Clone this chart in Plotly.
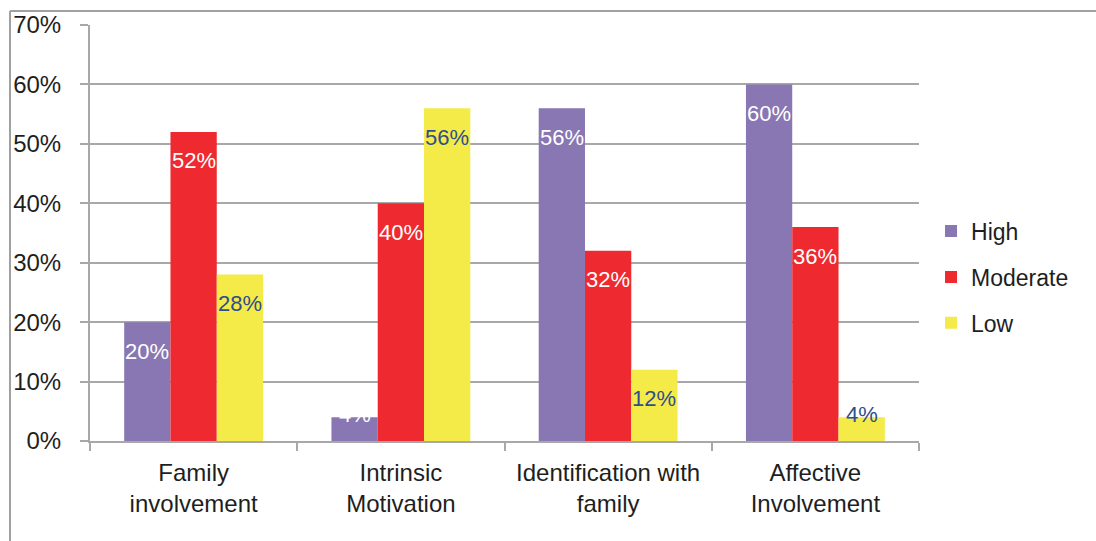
import plotly.graph_objects as go

# Chart data
categories = ["Family<br>involvement", "Intrinsic<br>Motivation",
              "Identification with<br>family", "Affective<br>Involvement"]
series_names = ["High", "Moderate", "Low"]
high = [20, 4, 56, 60]
moderate = [52, 40, 32, 36]
low = [28, 56, 12, 4]
y_ticks = [0, 10, 20, 30, 40, 50, 60, 70]
y_tick_labels = [f"{t}%" for t in y_ticks]

series_values = [high, moderate, low]
bar_colors = ["#8877B2", "#EE2A30", "#F4EA48"]
label_colors = ["#FFFFFF", "#FFFFFF", "#2E4E8E"]

FONT = "Liberation Sans, Arial, sans-serif"
GRID = "#A8A8A8"
TEXT = "#1E1E1E"
BARGAP = 0.33

fig = go.Figure()
for name, vals, col in zip(series_names, series_values, bar_colors):
    fig.add_trace(go.Bar(
        name=name, x=categories, y=vals, marker=dict(color=col, line=dict(width=0)),
        legendgroup=name, hoverinfo="skip",
    ))

# Data labels placed near the inside top of each bar
bar_w = (1 - BARGAP) / len(series_names)
annotations = []
for i, (vals, lc) in enumerate(zip(series_values, label_colors)):
    for j, v in enumerate(vals):
        annotations.append(dict(
            x=j + (i - 1) * bar_w, y=v, xref="x", yref="y",
            text=f"{v}%", showarrow=False,
            font=dict(family=FONT, size=22, color=lc),
            xanchor="center", yanchor="middle",
            yshift=-29 if v >= 10 else 3,
        ))

# Outer frame lines (top and left)
shapes = [
    dict(type="line", xref="paper", yref="paper", x0=-0.0965, x1=1.5,
         y0=1.0337, y1=1.0337, line=dict(color="#A0A0A0", width=2)),
    dict(type="line", xref="paper", yref="paper", x0=-0.0965, x1=-0.0965,
         y0=1.0337, y1=-0.5, line=dict(color="#A0A0A0", width=2)),
]

fig.update_layout(
    width=1096, height=541, autosize=False,
    margin=dict(l=90, r=177, t=25, b=100),
    paper_bgcolor="white", plot_bgcolor="white",
    barmode="group", bargap=BARGAP, bargroupgap=0,
    font=dict(family=FONT, color=TEXT),
    annotations=annotations, shapes=shapes,
    showlegend=True,
    legend=dict(
        x=1.0145, xanchor="left", y=0.394, yanchor="middle",
        font=dict(family=FONT, size=23, color=TEXT),
        traceorder="grouped", tracegroupgap=13,
        bgcolor="rgba(0,0,0,0)",
    ),
)

fig.update_yaxes(
    range=[0, 70], tickmode="array", tickvals=y_ticks, ticktext=y_tick_labels,
    showgrid=True, gridcolor=GRID, gridwidth=2,
    showline=True, linecolor=GRID, linewidth=2,
    ticks="outside", ticklen=8, tickcolor=GRID, tickwidth=2,
    tickfont=dict(family=FONT, size=24, color=TEXT),
    ticklabelstandoff=14, zeroline=False,
)
fig.update_xaxes(
    showline=True, linecolor=GRID, linewidth=2,
    ticks="outside", ticklen=8, tickcolor=GRID, tickwidth=2,
    tickson="boundaries",
    tickfont=dict(family=FONT, size=24, color=TEXT),
    ticklabelstandoff=9,
)

fig.write_html("out.html")
